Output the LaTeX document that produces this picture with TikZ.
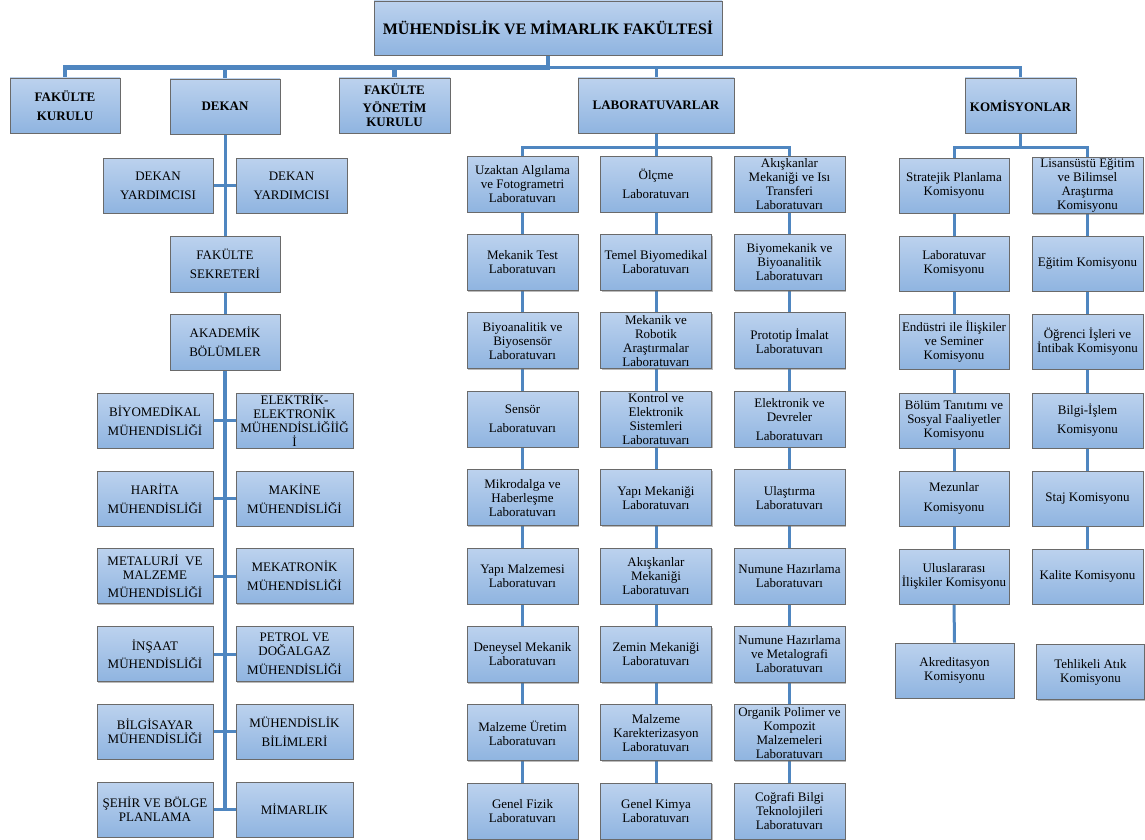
\documentclass[tikz,border=0pt]{standalone}
\usepackage{fontspec}
\setmainfont{Liberation Serif}
\usetikzlibrary{shadows,backgrounds}
\definecolor{boxtop}{HTML}{BCD2EE}
\definecolor{boxbot}{HTML}{8FB4E0}
\definecolor{boxborder}{HTML}{6A6A6A}
\definecolor{connc}{HTML}{4F86C0}
\newcommand{\fsn}{\fontsize{13}{14}\selectfont}
\newcommand{\fsb}{\fontsize{13}{14}\selectfont\bfseries}
\newcommand{\fst}{\fontsize{16}{18}\selectfont\bfseries}
\tikzset{
  box/.style={draw=boxborder, line width=0.8pt, top color=boxtop, bottom color=boxbot,
    inner sep=1pt, align=center, font=\fsn, minimum height=55pt,
    drop shadow={shadow xshift=1.2pt, shadow yshift=-1.2pt, fill=black!60, opacity=.45}},
  bw/.style={minimum width=#1},
  bh/.style={minimum height=#1},
  conn/.style={draw=connc, line width=3pt},
  thickconn/.style={draw=connc, line width=4.5pt},
}
\begin{document}
\begin{tikzpicture}[x=1pt,y=-1pt]
\useasboundingbox (0,0) rectangle (1145,840);

% ---------- top level ----------
\node[box,bw=348pt,bh=54pt,font=\fst] (top) at (548,28) {MÜHENDİSLİK VE MİMARLIK FAKÜLTESİ};
\node[box,bw=110pt,font=\fsb] (fk) at (65,105.5) {FAKÜLTE\\[5pt]KURULU};
\node[box,bw=110pt,font=\fsb] (dekan) at (225,106.5) {DEKAN};
\node[box,bw=111pt,font=\fsb] (fyk) at (394.5,105.5) {FAKÜLTE\\[4pt]YÖNETİM\\KURULU};
\node[box,bw=156pt,font=\fsb] (lab) at (656,105.5) {LABORATUVARLAR};
\node[box,bw=111pt,font=\fsb] (kom) at (1020.5,105.5) {KOMİSYONLAR};

% ---------- dekan column ----------
\node[box,bw=110pt] (yl) at (158,185.5) {DEKAN\\[5pt]YARDIMCISI};
\node[box,bw=111pt] (yr) at (291.5,185.5) {DEKAN\\[5pt]YARDIMCISI};
\node[box,bw=110pt,bh=56pt] (sek) at (225,264) {FAKÜLTE\\[5pt]SEKRETERİ};
\node[box,bw=110pt,bh=56pt] (akad) at (225,342) {AKADEMİK\\[5pt]BÖLÜMLER};

\node[box,bw=116pt] (d1l) at (155,420.5) {BİYOMEDİKAL\\[5pt]MÜHENDİSLİĞİ};
\node[box,bw=117pt] (d1r) at (294.5,420.5) {ELEKTRİK-\\ELEKTRONİK\\MÜHENDİSLİĞİİĞ\\İ};
\node[box,bw=116pt] (d2l) at (155,498.5) {HARİTA\\[5pt]MÜHENDİSLİĞİ};
\node[box,bw=117pt] (d2r) at (294.5,498.5) {MAKİNE\\[5pt]MÜHENDİSLİĞİ};
\node[box,bw=116pt] (d3l) at (155,576) {METALURJİ\ \ VE\\MALZEME\\[4pt]MÜHENDİSLİĞİ};
\node[box,bw=117pt] (d3r) at (294.5,576) {MEKATRONİK\\[5pt]MÜHENDİSLİĞİ};
\node[box,bw=116pt] (d4l) at (155,654) {İNŞAAT\\[4pt]MÜHENDİSLİĞİ};
\node[box,bw=117pt] (d4r) at (294.5,654) {PETROL VE\\DOĞALGAZ\\[5pt]MÜHENDİSLİĞİ};
\node[box,bw=116pt] (d5l) at (155,731.5) {BİLGİSAYAR\\MÜHENDİSLİĞİ};
\node[box,bw=117pt] (d5r) at (294.5,731.5) {MÜHENDİSLİK\\[5pt]BİLİMLERİ};
\node[box,bw=116pt] (d6l) at (155,809.5) {ŞEHİR VE BÖLGE\\PLANLAMA};
\node[box,bw=117pt] (d6r) at (294.5,809.5) {MİMARLIK};

% ---------- laboratories ----------
\node[box,bw=111pt,bh=56pt] (a1) at (522.5,184) {Uzaktan Algılama\\ve Fotogrametri\\Laboratuvarı};
\node[box,bw=111pt,bh=56pt] (a2) at (522.5,262.4) {Mekanik Test\\Laboratuvarı};
\node[box,bw=111pt,bh=56pt] (a3) at (522.5,340.8) {Biyoanalitik ve\\Biyosensör\\Laboratuvarı};
\node[box,bw=111pt,bh=56pt] (a4) at (522.5,419.2) {Sensör\\[5pt]Laboratuvarı};
\node[box,bw=111pt,bh=56pt] (a5) at (522.5,497.6) {Mikrodalga ve\\Haberleşme\\Laboratuvarı};
\node[box,bw=111pt,bh=56pt] (a6) at (522.5,576) {Yapı Malzemesi\\Laboratuvarı};
\node[box,bw=111pt,bh=56pt] (a7) at (522.5,654.4) {Deneysel Mekanik\\Laboratuvarı};
\node[box,bw=111pt,bh=56pt] (a8) at (522.5,732.8) {Malzeme Üretim\\Laboratuvarı};
\node[box,bw=111pt,bh=56pt] (a9) at (522.5,811.2) {Genel Fizik\\Laboratuvarı};

\node[box,bw=111pt,bh=56pt] (b1) at (656,184) {Ölçme\\[5pt]Laboratuvarı};
\node[box,bw=111pt,bh=56pt] (b2) at (656,262.4) {Temel Biyomedikal\\Laboratuvarı};
\node[box,bw=111pt,bh=56pt] (b3) at (656,340.8) {Mekanik ve\\Robotik\\Araştırmalar\\Laboratuvarı};
\node[box,bw=111pt,bh=56pt] (b4) at (656,419.2) {Kontrol ve\\Elektronik\\Sistemleri\\Laboratuvarı};
\node[box,bw=111pt,bh=56pt] (b5) at (656,497.6) {Yapı Mekaniği\\Laboratuvarı};
\node[box,bw=111pt,bh=56pt] (b6) at (656,576) {Akışkanlar\\Mekaniği\\Laboratuvarı};
\node[box,bw=111pt,bh=56pt] (b7) at (656,654.4) {Zemin Mekaniği\\Laboratuvarı};
\node[box,bw=111pt,bh=56pt] (b8) at (656,732.8) {Malzeme\\Karekterizasyon\\Laboratuvarı};
\node[box,bw=111pt,bh=56pt] (b9) at (656,811.2) {Genel Kimya\\Laboratuvarı};

\node[box,bw=111pt,bh=56pt] (c1) at (789.5,184) {Akışkanlar\\Mekaniği ve Isı\\Transferi\\Laboratuvarı};
\node[box,bw=111pt,bh=56pt] (c2) at (789.5,262.4) {Biyomekanik ve\\Biyoanalitik\\Laboratuvarı};
\node[box,bw=111pt,bh=56pt] (c3) at (789.5,340.8) {Prototip İmalat\\Laboratuvarı};
\node[box,bw=111pt,bh=56pt] (c4) at (789.5,419.2) {Elektronik ve\\Devreler\\[5pt]Laboratuvarı};
\node[box,bw=111pt,bh=56pt] (c5) at (789.5,497.6) {Ulaştırma\\Laboratuvarı};
\node[box,bw=111pt,bh=56pt] (c6) at (789.5,576) {Numune Hazırlama\\Laboratuvarı};
\node[box,bw=111pt,bh=56pt] (c7) at (789.5,654.4) {Numune Hazırlama\\ve Metalografi\\Laboratuvarı};
\node[box,bw=111pt,bh=56pt] (c8) at (789.5,732.8) {Organik Polimer ve\\Kompozit\\Malzemeleri\\Laboratuvarı};
\node[box,bw=111pt,bh=56pt] (c9) at (789.5,811.2) {Coğrafi Bilgi\\Teknolojileri\\Laboratuvarı};

% ---------- commissions ----------
\node[box,bw=110pt] (k1) at (954,185.5) {Stratejik Planlama\\Komisyonu};
\node[box,bw=110pt] (k2) at (954,263.5) {Laboratuvar\\Komisyonu};
\node[box,bw=110pt] (k3) at (954,341.5) {Endüstri ile İlişkiler\\ve Seminer\\Komisyonu};
\node[box,bw=110pt] (k4) at (954,420.5) {Bölüm Tanıtımı ve\\Sosyal Faaliyetler\\Komisyonu};
\node[box,bw=110pt] (k5) at (954,498.5) {Mezunlar\\[6pt]Komisyonu};
\node[box,bw=110pt] (k6) at (954,576.5) {Uluslararası\\İlişkiler Komisyonu};
\node[box,bw=119pt] (k7) at (954.5,670.5) {Akreditasyon\\Komisyonu};

\node[box,bw=111pt] (m1) at (1087.5,185.5) {Lisansüstü Eğitim\\ve Bilimsel\\Araştırma\\Komisyonu};
\node[box,bw=111pt] (m2) at (1087.5,263.5) {Eğitim Komisyonu};
\node[box,bw=111pt] (m3) at (1087.5,341.5) {Öğrenci İşleri ve\\İntibak Komisyonu};
\node[box,bw=111pt] (m4) at (1087.5,420.5) {Bilgi-İşlem\\[5pt]Komisyonu};
\node[box,bw=111pt] (m5) at (1087.5,498.5) {Staj Komisyonu};
\node[box,bw=111pt] (m6) at (1087.5,576.5) {Kalite Komisyonu};
\node[box,bw=108pt] (m7) at (1090.5,672) {Tehlikeli Atık\\Komisyonu};

% ---------- connectors ----------
\begin{scope}[on background layer]
\foreach \c in {fk,dekan,fyk}
  \draw[thickconn] (top.south) -- ++(0,12) -| (\c.north);
\foreach \c in {lab,kom}
  \draw[conn] (top.south) -- ++(0,12) -| (\c.north);

\draw[conn] (dekan.south) -- (sek.north);
\draw[conn] (yl.east) -- (yr.west);
\draw[conn] (sek.south) -- (akad.north);
\coordinate (spineend) at (akad.south |- d6l.east);
\draw[thickconn] (akad.south) -- (spineend);
\foreach \i in {1,...,6}
  \draw[conn] (d\i l.east) -- (d\i r.west);

\foreach \c in {a1,b1,c1}
  \draw[conn] (lab.south) -- ++(0,14) -| (\c.north);
\foreach \col in {a,b,c}{
  \foreach \i [evaluate=\i as \j using int(\i+1)] in {1,...,8}
    \draw[conn] (\col\i.south) -- (\col\j.north);
}

\foreach \c in {k1,m1}
  \draw[conn] (kom.south) -- ++(0,14) -| (\c.north);
\foreach \i [evaluate=\i as \j using int(\i+1)] in {1,...,6}
  \draw[conn] (k\i.south) -- (k\j.north);
\foreach \i [evaluate=\i as \j using int(\i+1)] in {1,...,5}
  \draw[conn] (m\i.south) -- (m\j.north);
\end{scope}
\end{tikzpicture}
\end{document}
